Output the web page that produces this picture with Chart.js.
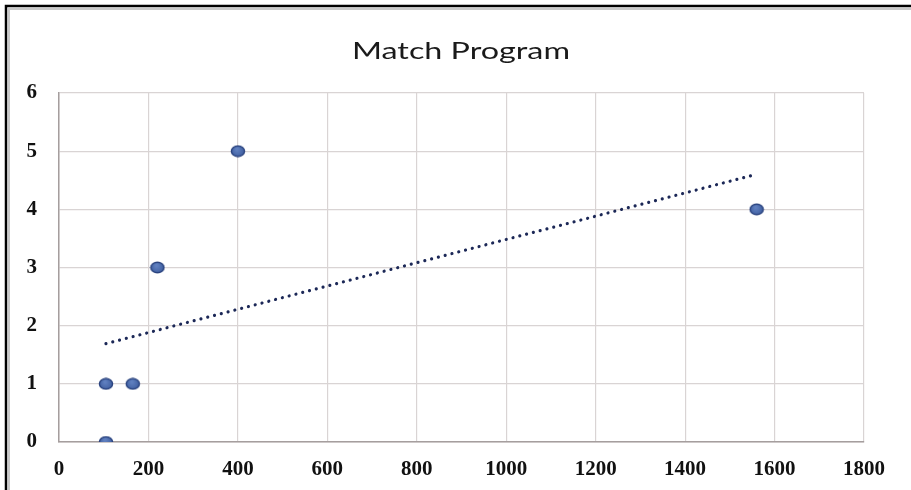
<!DOCTYPE html>
<html>
<head>
<meta charset="utf-8">
<script src="https://cdn.jsdelivr.net/npm/chart.js@4/dist/chart.umd.min.js"></script>
<style>
  html, body { margin: 0; padding: 0; background: #ffffff; }
  #wrap { position: relative; width: 911px; height: 490px; }
</style>
</head>
<body>
<div id="wrap"><canvas id="chart"></canvas></div>
<script>
// Scatter data: program size vs. matches
const xValues = [105, 105, 165, 220, 400, 1560];
const yValues = [0, 1, 1, 3, 5, 4];

// Axis tick values
const xTicks = [0, 200, 400, 600, 800, 1000, 1200, 1400, 1600, 1800];
const yTicks = [0, 1, 2, 3, 4, 5, 6];

const titleText = 'Match Program';

// Least-squares linear trendline over the data range
function linearFit(xs, ys) {
  const n = xs.length;
  const mx = xs.reduce((a, b) => a + b, 0) / n;
  const my = ys.reduce((a, b) => a + b, 0) / n;
  let sxy = 0, sxx = 0;
  for (let i = 0; i < n; i++) {
    sxy += (xs[i] - mx) * (ys[i] - my);
    sxx += (xs[i] - mx) * (xs[i] - mx);
  }
  const slope = sxy / sxx;
  return { slope, intercept: my - slope * mx };
}
const fit = linearFit(xValues, yValues);
const xMin = Math.min(...xValues), xMax = Math.max(...xValues);
const trendPoints = [
  { x: xMin, y: fit.intercept + fit.slope * xMin },
  { x: xMax, y: fit.intercept + fit.slope * xMax }
];

const points = xValues.map((x, i) => ({ x, y: yValues[i] }));

// Slightly oval marker with a darker rim
function makeMarker() {
  const w = 16, h = 13;
  const c = document.createElement('canvas');
  c.width = w; c.height = h;
  const g = c.getContext('2d');
  const grad = g.createRadialGradient(w / 2 - 1, h / 2 - 2, 1, w / 2, h / 2, 7);
  grad.addColorStop(0, '#5f7fbf');
  grad.addColorStop(1, '#3d5c9d');
  g.beginPath();
  g.ellipse(w / 2, h / 2, 6.6, 5.3, 0, 0, Math.PI * 2);
  g.fillStyle = grad;
  g.fill();
  g.lineWidth = 1.4;
  g.strokeStyle = '#2a437f';
  g.stroke();
  return c;
}
const marker = makeMarker();

// Outer frame of the chart panel and the title text
const framePlugin = {
  id: 'frame',
  afterDraw(chart) {
    const ctx = chart.ctx;
    ctx.save();
    ctx.strokeStyle = '#c9c9c9';
    ctx.lineWidth = 2;
    ctx.beginPath();
    ctx.moveTo(9, 490); ctx.lineTo(9, 9); ctx.lineTo(911, 9);
    ctx.stroke();
    ctx.strokeStyle = '#000000';
    ctx.lineWidth = 2.5;
    ctx.beginPath();
    ctx.moveTo(6, 490); ctx.lineTo(6, 6); ctx.lineTo(911, 6);
    ctx.stroke();

    // Title, widened to the panel's text width
    ctx.font = '23px Lato, "Open Sans", sans-serif';
    ctx.fillStyle = '#1a1a1a';
    ctx.textBaseline = 'alphabetic';
    ctx.textAlign = 'left';
    const tw = ctx.measureText(titleText).width;
    const target = 218;
    const sx = target / tw;
    ctx.translate(461 - target / 2, 59);
    ctx.scale(sx, 1);
    ctx.fillText(titleText, 0, 0);
    ctx.restore();
  }
};

const tickFont = { family: '"Liberation Serif", "DejaVu Serif", serif', size: 21, weight: 'bold' };
const plainTick = v => String(v);

new Chart(document.getElementById('chart'), {
  type: 'scatter',
  data: {
    datasets: [
      {
        label: 'Matches',
        data: points,
        pointStyle: marker,
        pointRadius: 7,
        pointHoverRadius: 7,
        order: 1
      },
      {
        label: 'Linear trend',
        type: 'line',
        data: trendPoints,
        borderColor: '#1c2857',
        borderWidth: 3.2,
        borderDash: [0.01, 7],
        borderCapStyle: 'round',
        pointRadius: 0,
        fill: false,
        order: 2
      }
    ]
  },
  options: {
    responsive: true,
    maintainAspectRatio: false,
    animation: false,
    events: [],
    layout: { padding: { left: 0, right: 47, top: 93, bottom: 0 } },
    plugins: {
      legend: { display: false },
      tooltip: { enabled: false },
      title: { display: false }
    },
    scales: {
      x: {
        type: 'linear',
        min: 0,
        max: 1800,
        afterBuildTicks(scale) { scale.ticks = xTicks.map(v => ({ value: v })); },
        afterFit(scale) { scale.height = 48; },
        ticks: { color: '#111111', font: tickFont, padding: 15, maxRotation: 0, callback: plainTick },
        grid: { color: '#d9d4d4', lineWidth: 1.2, drawTicks: false },
        border: { color: '#a59e9e', width: 1.5 }
      },
      y: {
        type: 'linear',
        min: 0,
        max: 6,
        afterBuildTicks(scale) { scale.ticks = yTicks.map(v => ({ value: v })); },
        afterFit(scale) { scale.width = 59; },
        ticks: { color: '#111111', font: tickFont, padding: 22, callback: plainTick },
        grid: { color: '#d9d4d4', lineWidth: 1.2, drawTicks: false },
        border: { color: '#a59e9e', width: 1.5 }
      }
    }
  },
  plugins: [framePlugin]
});
</script>
</body>
</html>
